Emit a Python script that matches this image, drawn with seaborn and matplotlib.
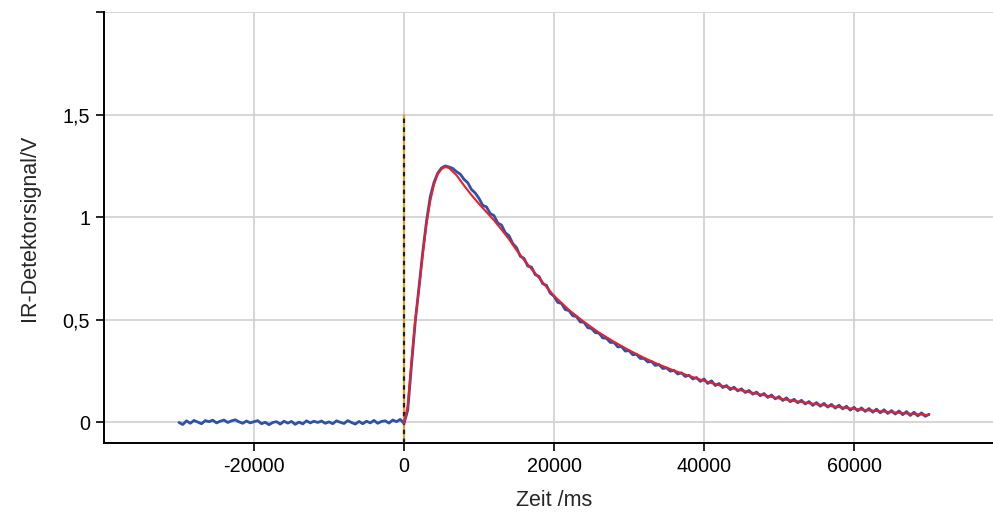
import numpy as np
import seaborn as sns
import matplotlib.pyplot as plt

# baseline before the trigger (every 500 ms from -30000 to -500)
base_t = np.arange(-30000, 0, 500)
base_v = [0.0, -0.01, 0.008, -0.004, 0.01, 0.002, -0.006, 0.009, 0.004, 0.011,
          -0.002, 0.006, 0.012, 0.0, 0.008, 0.013, 0.003, -0.004, 0.007, -0.002,
          0.004, 0.009, -0.006, 0.001, -0.011, 0.0, 0.004, -0.008, 0.006, -0.003,
          0.005, -0.009, 0.002, -0.007, 0.008, -0.002, 0.006, 0.0, 0.007, -0.004,
          0.003, -0.006, 0.008, 0.001, -0.005, 0.009, 0.0, -0.008, 0.005, -0.006,
          0.006, -0.002, 0.01, -0.004, 0.005, 0.008, -0.003, 0.012, 0.004, 0.015]

# rise (every 500 ms from 0 to 9500)
rise_t = np.arange(0, 10000, 500)
rise_v = [-0.005, 0.06, 0.28, 0.49, 0.66, 0.83, 0.98, 1.10, 1.17, 1.215,
          1.24, 1.25, 1.245, 1.238, 1.222, 1.21, 1.185, 1.168, 1.135, 1.118]

# decay (every 500 ms from 10000 to 70000)
decay_t = np.arange(10000, 70500, 500)
decay_v = [1.092, 1.058, 1.05, 1.018, 1.008, 0.972, 0.962, 0.925, 0.91, 0.872,
           0.852, 0.81, 0.8, 0.762, 0.757, 0.72, 0.712, 0.676, 0.668, 0.63,
           0.615, 0.585, 0.58, 0.55, 0.545, 0.52, 0.516, 0.49, 0.488, 0.462,
           0.458, 0.438, 0.435, 0.412, 0.41, 0.39, 0.39, 0.368, 0.37, 0.348,
           0.35, 0.33, 0.332, 0.312, 0.312, 0.295, 0.297, 0.278, 0.282, 0.263,
           0.266, 0.25, 0.254, 0.236, 0.242, 0.224, 0.23, 0.212, 0.219, 0.2,
           0.212, 0.19, 0.203, 0.18, 0.19, 0.17, 0.18, 0.16, 0.172, 0.154,
           0.164, 0.146, 0.156, 0.138, 0.148, 0.13, 0.141, 0.122, 0.134, 0.115,
           0.126, 0.107, 0.12, 0.101, 0.113, 0.096, 0.108, 0.09, 0.102, 0.083,
           0.097, 0.079, 0.093, 0.075, 0.088, 0.07, 0.084, 0.066, 0.079, 0.06,
           0.074, 0.057, 0.071, 0.054, 0.068, 0.05, 0.065, 0.047, 0.062, 0.044,
           0.058, 0.041, 0.056, 0.038, 0.053, 0.034, 0.05, 0.032, 0.047, 0.03,
           0.04]

signal_t = np.concatenate([base_t, rise_t, decay_t])
signal_v = np.array(base_v + rise_v + decay_v)

# fitted curve
fit_t = [0, 500, 1000, 1500, 2000, 2500, 3000, 3500, 4000, 4500, 5000, 5500,
         6000, 7000, 8000, 9000, 10000, 11000, 12000, 13000, 14000, 15000,
         16000, 17000, 18000, 19000, 20000, 22000, 24000, 26000, 28000, 30000,
         32000, 34000, 36000, 38000, 40000, 42000, 44000, 46000, 48000, 50000,
         52000, 54000, 56000, 58000, 60000, 62000, 64000, 66000, 68000, 70000]
fit_v = [0.0, 0.08, 0.30, 0.50, 0.65, 0.82, 0.97, 1.08, 1.16, 1.21, 1.235, 1.245,
         1.24, 1.205, 1.155, 1.108, 1.065, 1.025, 0.985, 0.94, 0.893, 0.84,
         0.792, 0.748, 0.705, 0.66, 0.617, 0.548, 0.49, 0.438, 0.393, 0.352,
         0.315, 0.282, 0.253, 0.227, 0.203, 0.182, 0.164, 0.148, 0.133, 0.117,
         0.105, 0.094, 0.084, 0.075, 0.066, 0.059, 0.053, 0.047, 0.041, 0.036]

# trigger marker
trigger_x = [0, 0]
trigger_y = [-0.1, 1.5]

x_ticks = [-20000, 0, 20000, 40000, 60000]
y_ticks = [0, 0.5, 1, 1.5, 2]
y_labels = ['0', '0,5', '1', '1,5', '']

sns.set_style('white')
plt.rcParams['font.family'] = ['Liberation Sans', 'DejaVu Sans']

fig = plt.figure(figsize=(9.93, 5.15), dpi=100)
ax = fig.add_axes([104 / 993, 72 / 515, 900 / 993, 431 / 515])

ax.plot(trigger_x, trigger_y, color='#E8A020', lw=1.6, zorder=3)
ax.plot(trigger_x, trigger_y, color='#202020', lw=1.6, ls=(0, (2, 2)), zorder=4)

sns.lineplot(x=signal_t, y=signal_v, color='#2F52A8', lw=2, ax=ax, zorder=5)
sns.lineplot(x=fit_t, y=fit_v, color='#E8202E', lw=1.5, ax=ax, zorder=6)

ax.set_xlim(-40000, 80000)
ax.set_ylim(-0.1, 2.0)
ax.set_xticks(x_ticks)
ax.set_xticklabels([str(v) for v in x_ticks])
ax.set_yticks(y_ticks)
ax.set_yticklabels(y_labels)
ax.grid(True, color='#D0D0D0', lw=1.2)
ax.set_axisbelow(True)

for s in ['top', 'right']:
    ax.spines[s].set_visible(False)
for s in ['left', 'bottom']:
    ax.spines[s].set_color('black')
    ax.spines[s].set_linewidth(1.4)

ax.tick_params(axis='both', direction='out', length=6, width=1.2, colors='black',
               labelsize=14.2, pad=4, left=True, bottom=True)
ax.set_xlabel('Zeit /ms', fontsize=15.5, labelpad=10)
ax.set_ylabel('IR-Detektorsignal/V', fontsize=15.5, labelpad=16)

fig.savefig('out.png', dpi=100)
